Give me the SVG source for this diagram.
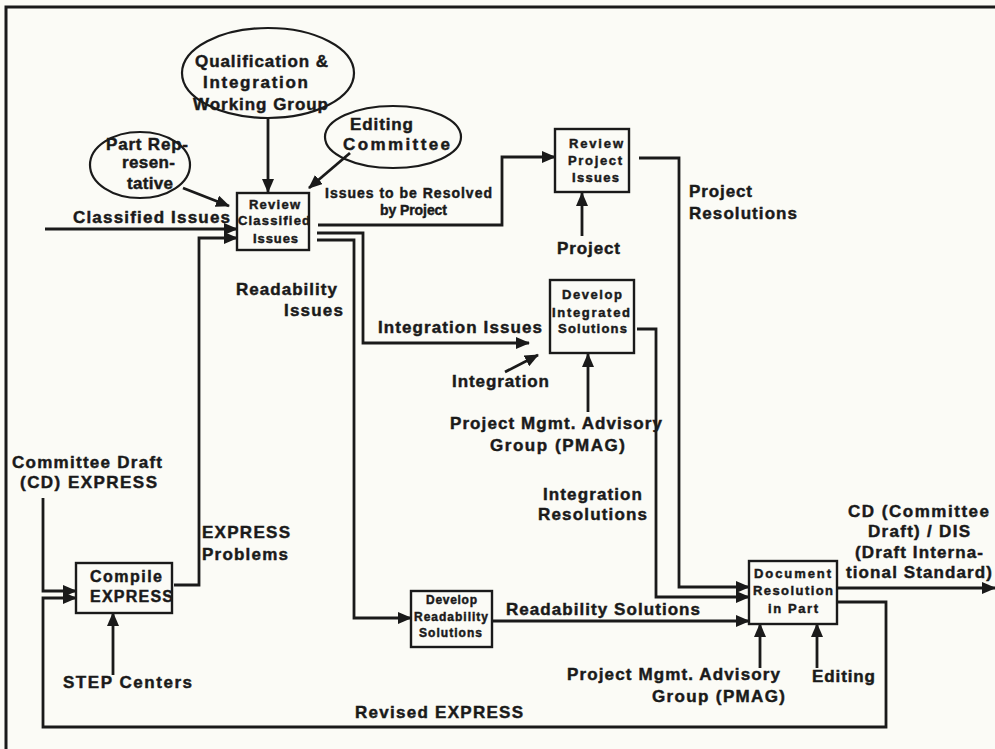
<svg xmlns="http://www.w3.org/2000/svg" width="995" height="749" viewBox="0 0 995 749">
<style>
  text { font-family: "Liberation Sans", Arial, Helvetica, sans-serif; font-weight: bold; fill: #1a1a1a; stroke: #1a1a1a; stroke-width: 0.45; }
  .l { font-size: 17px; }
  .m { font-size: 14px; }
  .s { font-size: 13px; }
  .xs { font-size: 12px; }
  .c { font-size: 16px; }
  .box { fill: none; stroke: #1a1a1a; stroke-width: 2.4; }
  .ell { fill: none; stroke: #1a1a1a; stroke-width: 2.2; }
  .wire { fill: none; stroke: #1a1a1a; stroke-width: 2.8; stroke-linejoin: miter; }
  .arr { marker-end: url(#ah); }
</style>
<defs>
  <marker id="ah" markerUnits="userSpaceOnUse" markerWidth="14" markerHeight="12" refX="13" refY="6" orient="auto">
    <path d="M0,0 L14,6 L0,12 z" fill="#1a1a1a"/>
  </marker>
</defs>
<rect x="0" y="0" width="995" height="749" fill="#fbfbf6"/>
<path d="M6,749 V7 H995" fill="none" stroke="#1a1a1a" stroke-width="3"/>

<g id="connectors">
  <path class="wire arr" d="M45,229 H237"/>
  <path class="wire arr" d="M268,118 V192"/>
  <path class="wire arr" d="M183,188 L229,206"/>
  <path class="wire arr" d="M350,153 L309,188"/>
  <path class="wire arr" d="M318,225 H502 V157 H555"/>
  <path class="wire arr" d="M317,233 H363 V343 H529"/>
  <path class="wire arr" d="M317,240 H354 V618 H411"/>
  <path class="wire arr" d="M582,236 V193"/>
  <path class="wire arr" d="M639,158 H679 V587 H749"/>
  <path class="wire arr" d="M505,372 L538,355"/>
  <path class="wire arr" d="M588,412 V354"/>
  <path class="wire arr" d="M637,329 H656 V597 H749"/>
  <path class="wire arr" d="M492,621 H749"/>
  <path class="wire arr" d="M837,588 H995"/>
  <path class="wire arr" d="M837,602 H886 V727 H43 V598 H76"/>
  <path class="wire arr" d="M43,498 V591 H76"/>
  <path class="wire arr" d="M174,585 H199 V238 H237"/>
  <path class="wire arr" d="M113,675 V613"/>
  <path class="wire arr" d="M760,668 V624"/>
  <path class="wire arr" d="M817,668 V624"/>
</g>

<g id="qual-integration-wg">
  <ellipse class="ell" cx="268" cy="73" rx="86" ry="45"/>
  <text class="l" x="195" y="67" textLength="133" lengthAdjust="spacing">Qualification &amp;</text>
  <text class="l" x="203" y="88" textLength="105" lengthAdjust="spacing">Integration</text>
  <text class="l" x="193" y="110" textLength="135" lengthAdjust="spacing">Working Group</text>
</g>

<g id="part-representative">
  <ellipse class="ell" cx="140" cy="165" rx="50" ry="33"/>
  <text class="l" x="106" y="150" textLength="82" lengthAdjust="spacing">Part Rep-</text>
  <text class="l" x="122" y="168" textLength="53" lengthAdjust="spacing">resen-</text>
  <text class="l" x="127" y="189" textLength="46" lengthAdjust="spacing">tative</text>
</g>

<g id="editing-committee">
  <ellipse class="ell" cx="393" cy="137" rx="68" ry="31"/>
  <text class="l" x="350" y="130" textLength="63" lengthAdjust="spacing">Editing</text>
  <text class="l" x="343" y="150" textLength="107" lengthAdjust="spacing">Committee</text>
</g>

<g id="review-classified-issues">
  <rect class="box" x="237" y="193" width="72" height="57"/>
  <text class="s" x="249" y="209" textLength="51" lengthAdjust="spacing">Review</text>
  <text class="s" x="238" y="225" textLength="72" lengthAdjust="spacing">Classified</text>
  <text class="s" x="253" y="243" textLength="45" lengthAdjust="spacing">Issues</text>
</g>

<g id="review-project-issues">
  <rect class="box" x="555" y="129" width="74" height="63"/>
  <text class="s" x="569" y="148" textLength="54" lengthAdjust="spacing">Review</text>
  <text class="s" x="568" y="165" textLength="54" lengthAdjust="spacing">Project</text>
  <text class="s" x="572" y="182" textLength="47" lengthAdjust="spacing">Issues</text>
</g>

<g id="develop-integrated-solutions">
  <rect class="box" x="550" y="280" width="84" height="73"/>
  <text class="s" x="562" y="299" textLength="60" lengthAdjust="spacing">Develop</text>
  <text class="s" x="552" y="317" textLength="78" lengthAdjust="spacing">Integrated</text>
  <text class="s" x="558" y="333" textLength="69" lengthAdjust="spacing">Solutions</text>
</g>

<g id="compile-express">
  <rect class="box" x="76" y="563" width="96" height="50"/>
  <text class="c" x="90" y="582" textLength="72" lengthAdjust="spacing">Compile</text>
  <text class="c" x="90" y="602" textLength="83" lengthAdjust="spacing">EXPRESS</text>
</g>

<g id="develop-readability-solutions">
  <rect class="box" x="411" y="591" width="81" height="56"/>
  <text class="xs" x="426" y="604" textLength="51" lengthAdjust="spacing">Develop</text>
  <text class="xs" x="414" y="621" textLength="74" lengthAdjust="spacing">Readability</text>
  <text class="xs" x="419" y="637" textLength="63" lengthAdjust="spacing">Solutions</text>
</g>

<g id="document-resolution-in-part">
  <rect class="box" x="749" y="561" width="88" height="63"/>
  <text class="s" x="754" y="578" textLength="77" lengthAdjust="spacing">Document</text>
  <text class="s" x="753" y="595" textLength="80" lengthAdjust="spacing">Resolution</text>
  <text class="s" x="768" y="613" textLength="50" lengthAdjust="spacing">in Part</text>
</g>

<g id="labels">
  <text class="l" x="73" y="223" textLength="157" lengthAdjust="spacing">Classified Issues</text>
  <text class="m" x="325" y="198" textLength="167" lengthAdjust="spacing">Issues to be Resolved</text>
  <text class="m" x="380" y="215" textLength="67" lengthAdjust="spacing">by Project</text>
  <text class="l" x="236" y="295" textLength="101" lengthAdjust="spacing">Readability</text>
  <text class="l" x="284" y="316" textLength="59" lengthAdjust="spacing">Issues</text>
  <text class="l" x="378" y="333" textLength="164" lengthAdjust="spacing">Integration Issues</text>
  <text class="l" x="452" y="387" textLength="97" lengthAdjust="spacing">Integration</text>
  <text class="l" x="557" y="254" textLength="63" lengthAdjust="spacing">Project</text>
  <text class="l" x="689" y="197" textLength="63" lengthAdjust="spacing">Project</text>
  <text class="l" x="689" y="219" textLength="108" lengthAdjust="spacing">Resolutions</text>
  <text class="l" x="450" y="429" textLength="212" lengthAdjust="spacing">Project Mgmt. Advisory</text>
  <text class="l" x="490" y="451" textLength="135" lengthAdjust="spacing">Group (PMAG)</text>
  <text class="l" x="543" y="500" textLength="99" lengthAdjust="spacing">Integration</text>
  <text class="l" x="538" y="520" textLength="109" lengthAdjust="spacing">Resolutions</text>
  <text class="l" x="506" y="615" textLength="194" lengthAdjust="spacing">Readability Solutions</text>
  <text class="l" x="848" y="517" textLength="141" lengthAdjust="spacing">CD (Committee</text>
  <text class="l" x="868" y="537" textLength="102" lengthAdjust="spacing">Draft) / DIS</text>
  <text class="l" x="855" y="558" textLength="128" lengthAdjust="spacing">(Draft Interna-</text>
  <text class="l" x="846" y="578" textLength="146" lengthAdjust="spacing">tional Standard)</text>
  <text class="l" x="567" y="680" textLength="213" lengthAdjust="spacing">Project Mgmt. Advisory</text>
  <text class="l" x="652" y="702" textLength="133" lengthAdjust="spacing">Group (PMAG)</text>
  <text class="l" x="812" y="682" textLength="63" lengthAdjust="spacing">Editing</text>
  <text class="l" x="12" y="468" textLength="150" lengthAdjust="spacing">Committee Draft</text>
  <text class="l" x="20" y="488" textLength="137" lengthAdjust="spacing">(CD) EXPRESS</text>
  <text class="l" x="202" y="538" textLength="88" lengthAdjust="spacing">EXPRESS</text>
  <text class="l" x="202" y="560" textLength="86" lengthAdjust="spacing">Problems</text>
  <text class="l" x="63" y="688" textLength="129" lengthAdjust="spacing">STEP Centers</text>
  <text class="l" x="355" y="718" textLength="168" lengthAdjust="spacing">Revised EXPRESS</text>
</g>
</svg>
